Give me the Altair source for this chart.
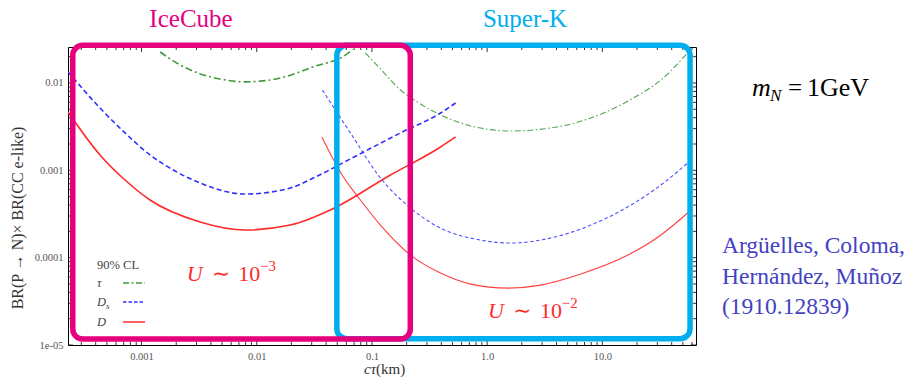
import math
import altair as alt
import pandas as pd

# ---------------- data (cτ in km, BR(P→N)×BR(CC e-like)) ----------------
tau_ic_x = [1.45e-3, 2.16e-3, 3.23e-3, 4.82e-3, 7.94e-3, 0.0131, 0.0160, 0.0310, 0.0625, 0.0677]
tau_ic_y = [0.0226, 0.0161, 0.0127, 0.0111, 0.0103, 0.0108, 0.0114, 0.0153, 0.0221, 0.0245]

tau_sk_x = [0.0878, 0.1185, 0.1769, 0.2641, 0.3943, 0.7186, 1.601, 3.566, 7.943, 17.69, 32.26, 58.84]
tau_sk_y = [0.0221, 0.01447, 0.00831, 0.00575, 0.00430, 0.00322, 0.00282, 0.00305, 0.00397, 0.00647, 0.01082, 0.02452]

ds_ic_x = [2.30e-4, 4.36e-4, 7.19e-4, 1.185e-3, 1.956e-3, 3.226e-3, 7.94e-3, 0.01956, 0.03099, 0.06501, 0.1769, 0.3943, 0.5322]
ds_ic_y = [0.01337, 0.00517, 0.00268, 0.00150, 9.82e-4, 7.15e-4, 5.35e-4, 6.27e-4, 8.16e-4, 0.00135, 0.00268, 0.00453, 0.00590]

ds_sk_x = [0.03712, 0.06501, 0.1185, 0.2162, 0.3943, 0.8780, 1.601, 3.566, 7.943, 17.69, 32.26, 58.84]
ds_sk_y = [0.00831, 0.00268, 8.16e-4, 3.70e-4, 2.18e-4, 1.59e-4, 1.47e-4, 1.68e-4, 2.36e-4, 4.00e-4, 6.79e-4, 1.31e-3]

d_ic_x = [2.30e-4, 4.36e-4, 7.19e-4, 1.185e-3, 3.226e-3, 7.94e-3, 0.01956, 0.04357, 0.1448, 0.3943, 0.5322]
d_ic_y = [0.00465, 0.00150, 7.74e-4, 4.57e-4, 2.56e-4, 2.07e-4, 2.36e-4, 3.51e-4, 8.84e-4, 0.00185, 0.00241]

d_sk_x = [0.03675, 0.05652, 0.07943, 0.1185, 0.2162, 0.3943, 0.7186, 1.508, 2.919, 6.501, 16.66, 32.26, 58.84]
d_sk_y = [0.00241, 8.38e-4, 4.57e-4, 2.36e-4, 1.07e-4, 6.66e-5, 4.98e-5, 4.48e-5, 4.85e-5, 6.49e-5, 1.07e-4, 1.82e-4, 3.51e-4]

# experiment boxes (data units)
icecube_box = {"x": 2.53e-4, "x2": 0.2153, "y": 1.168e-5, "y2": 0.0270}
superk_box = {"x": 0.0496, "x2": 57.7, "y": 1.18e-5, "y2": 0.0270}

# axis tick labels
x_label_vals = [0.001, 0.01, 0.1, 1, 10]
x_label_txt = ["0.001", "0.01", "0.1", "1.0", "10.0"]
y_label_vals = [0.01, 0.001, 0.0001, 0.00001]
y_label_txt = ["0.01", "0.001", "0.0001", "1e-05"]

X_DOMAIN = [2.3e-4, 65]
Y_DOMAIN = [1e-5, 0.0258]

# ---------------- styling ----------------
W, H = 628, 298
SERIF = "'Liberation Serif', 'DejaVu Serif', serif"
MAG = "#E6007E"
CYAN = "#00AEEF"
GREEN = "#3f9a3f"
BLUE = "#2f2fff"
RED = "#ff2a2a"
CITE = "#4242c2"


def label_expr(vals, txts):
    parts = []
    for v, t in zip(vals, txts):
        parts.append(f"abs(log(datum.value)/LN10 - ({math.log10(v)})) < 0.01 ? '{t}' : ")
    return "".join(parts) + "''"


xs = alt.Scale(type="log", domain=X_DOMAIN, nice=False)
ys = alt.Scale(type="log", domain=Y_DOMAIN, nice=False)
x_axis = alt.Axis(values=x_label_vals, labelExpr=label_expr(x_label_vals, x_label_txt),
                  ticks=False, domain=False, grid=False, title=None, labelFont=SERIF,
                  labelFontSize=10.5, labelColor="#555", labelPadding=6)
y_axis = alt.Axis(values=y_label_vals, labelExpr=label_expr(y_label_vals, y_label_txt),
                  ticks=False, domain=False, grid=False, title=None, labelFont=SERIF,
                  labelFontSize=10.5, labelColor="#555", labelPadding=5)
X = alt.X("x:Q", scale=xs, axis=x_axis)
Y = alt.Y("y:Q", scale=ys, axis=y_axis)

layers = []


def line(xv, yv, color, width, dash=None, opacity=1.0):
    kw = dict(color=color, strokeWidth=width, interpolate="monotone", opacity=opacity, clip=True)
    if dash:
        kw["strokeDash"] = dash
    return alt.Chart(pd.DataFrame({"x": xv, "y": yv})).mark_line(**kw).encode(x=X, y=Y)


layers.append(line(tau_ic_x, tau_ic_y, GREEN, 1.6, [7, 3, 2, 3]))
layers.append(line(ds_ic_x, ds_ic_y, BLUE, 1.6, [5, 3]))
layers.append(line(d_ic_x, d_ic_y, RED, 1.6))
layers.append(line(tau_sk_x, tau_sk_y, GREEN, 1.1, [6, 2.5, 1.5, 2.5], 0.9))
layers.append(line(ds_sk_x, ds_sk_y, BLUE, 1.1, [3.5, 2.5], 0.85))
layers.append(line(d_sk_x, d_sk_y, RED, 1.1, None, 0.9))

# inward ticks on all four sides
x_ticks = [m * 10 ** k for k in range(-4, 2) for m in range(1, 10) if X_DOMAIN[0] <= m * 10 ** k <= X_DOMAIN[1]]
y_ticks = [m * 10 ** k for k in range(-5, -1) for m in range(1, 10) if Y_DOMAIN[0] <= m * 10 ** k <= Y_DOMAIN[1]]
for major in (True, False):
    xv = [v for v in x_ticks if (abs(math.log10(v) - round(math.log10(v))) < 1e-9) == major]
    yv = [v for v in y_ticks if (abs(math.log10(v) - round(math.log10(v))) < 1e-9) == major]
    L = 5 if major else 3
    dx = pd.DataFrame({"x": xv})
    dy = pd.DataFrame({"y": yv})
    layers.append(alt.Chart(dx).mark_rule(color="black", strokeWidth=0.8).encode(x=X, y=alt.value(H), y2=alt.value(H - L)))
    layers.append(alt.Chart(dx).mark_rule(color="black", strokeWidth=0.8).encode(x=X, y=alt.value(0), y2=alt.value(L)))
    layers.append(alt.Chart(dy).mark_rule(color="black", strokeWidth=0.8).encode(y=Y, x=alt.value(0), x2=alt.value(L)))
    layers.append(alt.Chart(dy).mark_rule(color="black", strokeWidth=0.8).encode(y=Y, x=alt.value(W), x2=alt.value(W - L)))

# boxes
for box, col in ((superk_box, CYAN), (icecube_box, MAG)):
    layers.append(
        alt.Chart(pd.DataFrame({k: [v] for k, v in box.items()}))
        .mark_rect(fillOpacity=0, stroke=col, strokeWidth=5.5, cornerRadius=10, clip=False)
        .encode(x=X, x2="x2:Q", y=Y, y2="y2:Q")
    )

dummy = pd.DataFrame({"a": [0]})


def txt(s, x, y, size, color="black", align="left", baseline="alphabetic", style="normal", angle=0):
    kw = dict(text=s, fontSize=size, color=color, align=align, baseline=baseline, font=SERIF,
              fontStyle=style)
    if angle:
        kw["angle"] = angle
    return alt.Chart(dummy).mark_text(**kw).encode(x=alt.value(x), y=alt.value(y))


# legend samples
layers.append(alt.Chart(dummy).mark_rule(color=GREEN, strokeWidth=1.5, strokeDash=[6, 2.5, 2, 2.5]).encode(
    x=alt.value(55), x2=alt.value(77), y=alt.value(236)))
layers.append(alt.Chart(dummy).mark_rule(color=BLUE, strokeWidth=1.5, strokeDash=[3.5, 2]).encode(
    x=alt.value(55), x2=alt.value(77), y=alt.value(255)))
layers.append(alt.Chart(dummy).mark_rule(color=RED, strokeWidth=1.5).encode(
    x=alt.value(55), x2=alt.value(77), y=alt.value(275)))

texts = [
    # legend
    txt("90% CL", 29, 218, 12.5, "#444", baseline="middle"),
    txt("τ", 29, 236, 12.5, "#444", baseline="middle", style="italic"),
    txt("D", 29, 255, 12.5, "#444", baseline="middle", style="italic"),
    txt("s", 38, 259, 9, "#444", baseline="middle", style="italic"),
    txt("D", 29, 275, 12.5, "#444", baseline="middle", style="italic"),
    # titles
    txt("IceCube", 123, -20, 25, MAG, align="center"),
    txt("Super-K", 457, -20, 25, CYAN, align="center"),
    # U annotations
    txt("U", 118.7, 234, 22, RED, style="italic"),
    txt("∼", 143.7, 234, 22, RED),
    txt("10", 170.3, 234, 22, RED),
    txt("−3", 192, 224, 15, RED),
    txt("U", 420, 271, 22, RED, style="italic"),
    txt("∼", 445, 271, 22, RED),
    txt("10", 472, 271, 22, RED),
    txt("−2", 493.7, 261, 15, RED),
    # m_N
    txt("m", 684, 49, 26, style="italic"),
    txt("N", 702, 54, 17, style="italic"),
    txt("=", 720, 49, 25),
    txt("1GeV", 739, 49, 26),
    # citation
    txt("Argüelles, Coloma,", 654, 206, 23.5, CITE),
    txt("Hernández, Muñoz", 654, 237, 23.5, CITE),
    txt("(1910.12839)", 654, 267, 23.5, CITE),
    # axis titles
    txt("BR(P → N)× BR(CC e-like)", -50.5, 171, 16, "#333", align="center", baseline="middle", angle=270),
    txt("cτ", 308, 327, 15, "#333", align="right", style="italic"),
    txt("(km)", 308, 327, 15, "#333"),
]
layers.extend(texts)

chart = (
    alt.layer(*layers)
    .properties(width=W, height=H, padding={"left": 68, "top": 47, "right": 214, "bottom": 34},
                autosize=alt.AutoSizeParams(type="none"))
    .configure(background="white")
    .configure_view(stroke="black", strokeWidth=1)
)

chart.save("out.html", embed_options={"renderer": "svg", "actions": False})
